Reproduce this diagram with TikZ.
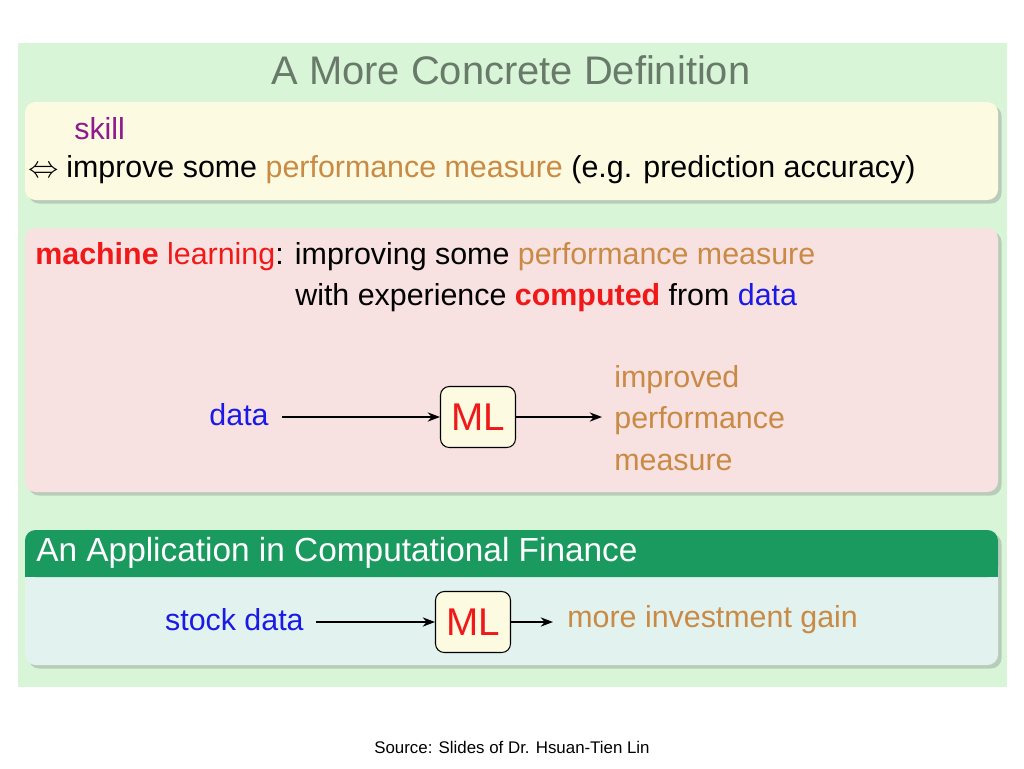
\documentclass[tikz,border=0pt]{standalone}
\usepackage{fontspec}
\setmainfont{Liberation Sans}
\usetikzlibrary{arrows.meta,shadows}
\definecolor{bggreen}{HTML}{D8F5D8}
\definecolor{ylw}{HTML}{FCFAE0}
\definecolor{pnk}{HTML}{F8E1E1}
\definecolor{hdgreen}{HTML}{1A9A5E}
\definecolor{bodygreen}{HTML}{E2F2EE}
\definecolor{orng}{HTML}{C88A45}
\definecolor{purp}{HTML}{8E1A8E}
\definecolor{blu}{HTML}{1A1AE6}
\definecolor{rd}{HTML}{F01818}
\definecolor{ttl}{HTML}{6A7A6A}
\tikzset{
 panel/.style={rounded corners=6pt,drop shadow={shadow xshift=2pt,shadow yshift=-2pt,opacity=0.35}},
 txt/.style={anchor=west,inner sep=0,font=\fontsize{17.3}{20}\selectfont},
 mlbox/.style={draw,rounded corners=5pt,fill=ylw,minimum width=1.5cm,minimum height=1.22cm,font=\fontsize{22}{26}\selectfont,text=rd,line width=0.6pt},
 arr/.style={-{Stealth[length=7pt]},line width=0.9pt}
}
\begin{document}
\begin{tikzpicture}[x=0.02cm,y=-0.02cm]
\useasboundingbox (0,0) rectangle (1024,768);
\fill[white] (0,0) rectangle (1024,768);
\fill[bggreen] (18,43) rectangle (1007,687);
\node[inner sep=0,text=ttl,font=\fontsize{22.7}{26}\selectfont] (title) at (511,70) {A More Concrete Definition};
% yellow
\fill[ylw,panel] (25,102) rectangle (998,200);
\node[txt,text=purp] (skill) at (74,129) {skill};
\node[txt] (imp) at (28,170) {$\Leftrightarrow$\hspace{0.25em}improve some \textcolor{orng}{performance measure} (e.g. prediction accuracy)};
% pink
\fill[pnk,panel] (25,228) rectangle (998,492);
\node[txt] (ml1) at (35,257) {\textcolor{rd}{\textbf{machine} learning}: improving some \textcolor{orng}{performance measure}};
\node[txt] (ml2) at (295,298) {with experience \textcolor{rd}{\textbf{computed}} from \textcolor{blu}{data}};
\node[txt,anchor=east,text=blu] (data) at (269,415) {data};
\node[mlbox] (ml) at (478,417) {ML};
\node[txt,text=orng,align=left,font=\fontsize{17.3}{23.5}\selectfont] (perf) at (614,418) {improved\\performance\\measure};
\coordinate (pin) at (602,417);
\coordinate (d0) at (282,417);
\draw[arr] (d0) -- (ml.west |- d0);
\draw[arr] (ml.east |- pin) -- (pin);
% green
\fill[bodygreen,panel] (25,530) rectangle (998,665);
\fill[hdgreen,rounded corners=6pt] (25,530) rectangle (998,577);
\fill[hdgreen] (25,560) rectangle (998,577);
\node[txt,text=white,font=\fontsize{19}{22}\selectfont] (hd) at (36,553) {An Application in Computational Finance};
\node[txt,anchor=east,text=blu] (sd) at (304,620) {stock data};
\node[mlbox] (ml2b) at (473,622) {ML};
\node[txt,text=orng] (gain) at (567,620) {more investment gain};
\coordinate (s0) at (316,622);
\coordinate (g0) at (553,622);
\draw[arr] (s0) -- (ml2b.west |- s0);
\draw[arr] (ml2b.east |- g0) -- (g0);
\node[inner sep=0,font=\fontsize{9.6}{11}\selectfont] (src) at (512,747) {Source: Slides of Dr. Hsuan-Tien Lin};
\end{tikzpicture}
\end{document}
